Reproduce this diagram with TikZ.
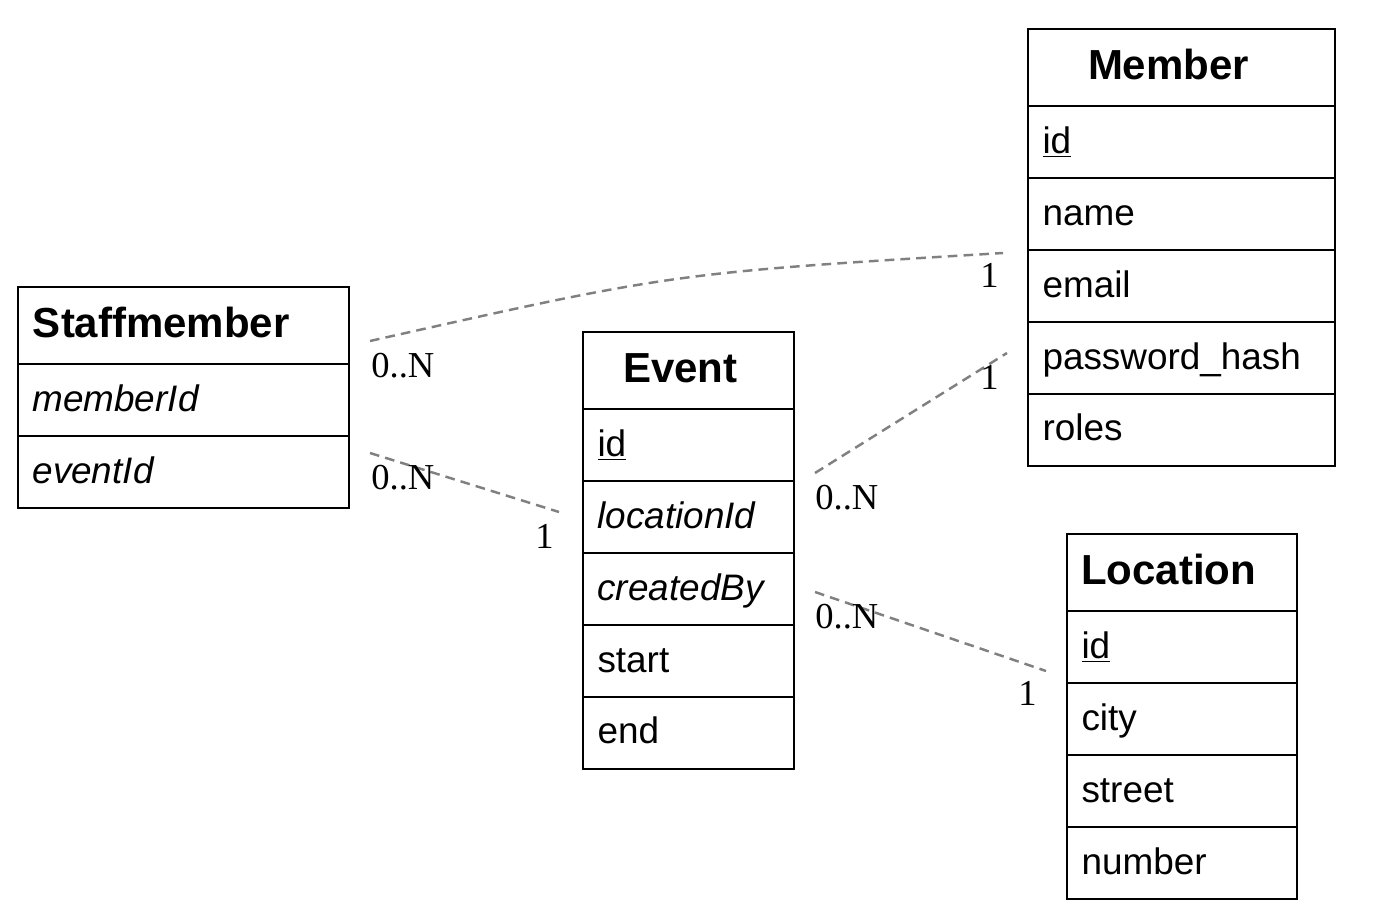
\documentclass[tikz,border=0pt]{standalone}
\usepackage{fontspec}
\setmainfont{Liberation Sans}
\newfontfamily\cardfont{Liberation Serif}
\usetikzlibrary{positioning}
\definecolor{relgray}{RGB}{128,128,128}
\tikzset{
    head/.style 2 args={rectangle, draw, line width=1.3pt, outer sep=0pt, text width=#1, inner xsep=#2, align=left, minimum height=1.54cm, text height=18.4pt, text depth=4.6pt, font=\fontsize{23.9}{28}\selectfont\bfseries},
    field/.style={rectangle, draw, line width=1.3pt, outer sep=0pt, text width=#1, inner xsep=0.29cm, align=left, minimum height=1.44cm, text height=16.6pt, text depth=4pt, font=\fontsize{21}{25}\selectfont},
    card/.style={inner sep=0pt, font=\cardfont\fontsize{20.8}{24}\selectfont},
    relation/.style={relgray, line width=1.4pt, dash pattern=on 5.5pt off 3.5pt},
}
\begin{document}
\begin{tikzpicture}[x=0.02cm, y=-0.02cm]
    \useasboundingbox (0,0) rectangle (1375,911);
    % Staffmember
    \node[head={6.02cm}{0.3cm}, anchor=north west] (staff) at (18,287) {Staffmember};
    \node[field=6.04cm, below=0pt of staff] (staff-member) {\textit{memberId}};
    \node[field=6.04cm, below=0pt of staff-member] (staff-event) {\textit{eventId}};
    % Event
    \node[head={2.62cm}{0.8cm}, anchor=north west] (event) at (583,332) {Event};
    \node[field=3.64cm, below=0pt of event] (event-id) {\underline{id}};
    \node[field=3.64cm, below=0pt of event-id] (event-location) {\textit{locationId}};
    \node[field=3.64cm, below=0pt of event-location] (event-created) {\textit{createdBy}};
    \node[field=3.64cm, below=0pt of event-created] (event-start) {start};
    \node[field=3.64cm, below=0pt of event-start] (event-end) {end};
    % Member
    \node[head={3.74cm}{1.2cm}, anchor=north west] (member) at (1028,29) {Member};
    \node[field=5.56cm, below=0pt of member] (member-id) {\underline{id}};
    \node[field=5.56cm, below=0pt of member-id] (member-name) {name};
    \node[field=5.56cm, below=0pt of member-name] (member-email) {email};
    \node[field=5.56cm, below=0pt of member-email] (member-pw) {password\_hash};
    \node[field=5.56cm, below=0pt of member-pw] (member-roles) {roles};
    % Location
    \node[head={4.04cm}{0.28cm}, anchor=north west] (location) at (1067,534) {Location};
    \node[field=4.02cm, below=0pt of location] (location-id) {\underline{id}};
    \node[field=4.02cm, below=0pt of location-id] (location-city) {city};
    \node[field=4.02cm, below=0pt of location-city] (location-street) {street};
    \node[field=4.02cm, below=0pt of location-street] (location-number) {number};
    % connector ends
    \coordinate (sm-a) at (370,341);
    \coordinate (m-a) at (1003,253);
    \coordinate (sm-b) at (370,453);
    \coordinate (ev-b) at (559,512);
    \coordinate (ev-c) at (815,473);
    \coordinate (m-c) at (1007,353);
    \coordinate (ev-d) at (815,592);
    \coordinate (loc-d) at (1046,671);
    % relations
    \draw[relation] (sm-a) .. controls (673,273) .. (m-a);
    \draw[relation] (sm-b) -- (ev-b);
    \draw[relation] (ev-c) -- (m-c);
    \draw[relation] (ev-d) -- (loc-d);
    % cardinalities
    \node[card, anchor=base west] (card-a1) at (371,378) {0..N};
    \node[card, anchor=base east] (card-a2) at (999,288) {1};
    \node[card, anchor=base west] (card-b1) at (371,490) {0..N};
    \node[card, anchor=base east] (card-b2) at (554,548) {1};
    \node[card, anchor=base west] (card-c1) at (815,510) {0..N};
    \node[card, anchor=base east] (card-c2) at (999,390) {1};
    \node[card, anchor=base west] (card-d1) at (815,628) {0..N};
    \node[card, anchor=base east] (card-d2) at (1037,705) {1};
\end{tikzpicture}
\end{document}
